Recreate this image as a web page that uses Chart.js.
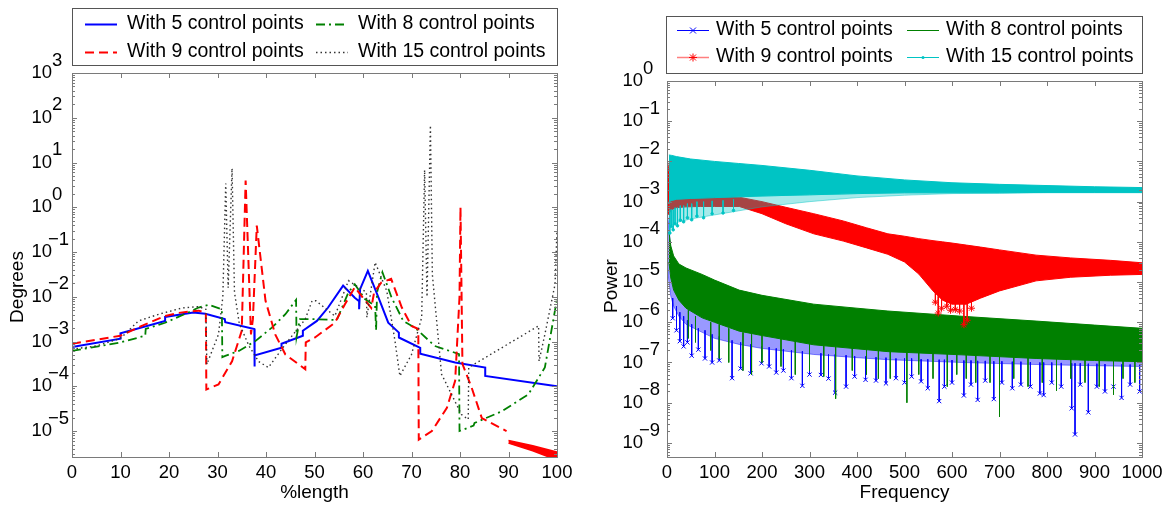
<!DOCTYPE html>
<html>
<head>
<meta charset="utf-8">
<script src="https://cdn.jsdelivr.net/npm/chart.js@4.4.0/dist/chart.umd.min.js"></script>
<style>
  html, body { margin: 0; padding: 0; background: #fff; }
  #wrap { position: relative; width: 1173px; height: 506px; }
  canvas { position: absolute; top: 0; }
  #left { left: 0; }
  #right { left: 586px; }
</style>
</head>
<body>
<div id="wrap">
  <canvas id="left" width="586" height="506"></canvas>
  <canvas id="right" width="587" height="506"></canvas>
</div>
<script>
// ---- left panel: %length vs log10(degrees) ----
const c5X = [0, 10, 10, 19.2, 19.2, 25, 27.5, 31.5, 31.6, 37.6, 37.6, 37.7, 43.2, 43.2, 47.6, 47.6, 50.5, 52.8, 55.9, 58.3, 59.2, 59.2, 59.4, 61, 63.2, 65.2, 67.4, 67.4, 71.8, 71.8, 79, 85.2, 85.2, 100];
const c5L = [-3.12, -2.935, -2.815, -2.54, -2.45, -2.35, -2.38, -2.5, -2.57, -2.72, -3.56, -3.31, -3.14, -3.05, -2.87, -2.76, -2.54, -2.24, -1.75, -2.02, -2.1, -2.28, -1.83, -1.42, -2.02, -2.58, -2.8, -2.91, -3.14, -3.27, -3.47, -3.58, -3.77, -4.0];

const c8X = [0, 10, 15.1, 15.2, 19.2, 24, 26.1, 28.2, 30.9, 31, 31.6, 34.4, 37.8, 41.2, 44, 46.2, 46.3, 47, 50.1, 54.6, 57, 58.3, 60.4, 62.5, 62.7, 62.9, 64, 65.9, 68.3, 70.7, 74.8, 79.8, 79.9, 82.8, 83, 88.6, 94.1, 97.5, 100];
const c8L = [-3.21, -3.02, -2.87, -2.72, -2.58, -2.35, -2.24, -2.18, -2.28, -3.35, -3.32, -3.21, -2.99, -2.69, -2.39, -2.07, -2.9, -2.5, -2.5, -2.52, -1.9, -1.72, -2.05, -2.2, -2.75, -1.9, -1.45, -2.02, -2.54, -2.69, -3.1, -3.28, -5.0, -4.88, -4.82, -4.56, -4.18, -3.58, -2.05];

const c9X = [0, 10, 14.4, 19.2, 22, 26.1, 27.6, 27.7, 30.2, 33, 35, 35.8, 36.9, 37.3, 38.1, 39.9, 41.9, 44, 48.1, 48.2, 50.1, 54.2, 56.3, 58.3, 60.2, 61.7, 62.3, 63.8, 65.8, 68, 70, 71.4, 71.5, 74.2, 77.3, 79, 79.9, 80.1, 80.5, 82.4, 84.5, 89.6];
const c9L = [-3.05, -2.87, -2.65, -2.43, -2.36, -2.31, -2.36, -4.07, -3.96, -3.44, -2.76, 0.6, -2.84, -2.5, -0.41, -2.09, -2.84, -3.29, -3.62, -3.02, -2.91, -2.58, -2.16, -1.79, -2.05, -2.25, -1.9, -1.68, -1.6, -2.24, -2.65, -2.72, -5.19, -5.0, -4.48, -3.88, -2.0, 0.0, -3.5, -4.03, -4.71, -5.0];
const c9TailX = [90, 95, 100];
const c9TailHi = [-5.21, -5.33, -5.47];
const c9TailLo = [-5.27, -5.44, -5.65];

const c15X = [0, 5, 10, 13.7, 17.9, 22.7, 26.1, 27.6, 27.8, 30.2, 31.1, 31.7, 32.2, 33.0, 33.5, 34.5, 36.5, 38.5, 40.5, 44, 48.1, 49.5, 50.3, 54.2, 57, 60.7, 60.8, 62.5, 64.9, 66.6, 67.6, 70, 72.1, 72.7, 73.2, 73.9, 74.3, 76.2, 80.3, 81.7, 81.8, 88.6, 96.2, 96.3, 97.5, 99.6, 100];
const c15L = [-3.17, -3.1, -2.93, -2.54, -2.39, -2.25, -2.22, -2.28, -3.51, -2.84, -2.0, 0.53, -1.8, 0.87, -1.9, -2.6, -3.1, -3.45, -3.58, -3.06, -2.5, -2.09, -2.09, -2.43, -1.64, -1.9, -2.46, -1.23, -1.87, -2.99, -3.77, -3.29, -2.46, 0.83, -2.0, 1.83, -1.5, -3.73, -4.63, -4.74, -3.58, -3.14, -2.65, -3.44, -2.84, -1.72, -0.5];

const leftExps = [3, 2, 1, 0, -1, -2, -3, -4, -5];

// ---- right panel: frequency vs log10(power), envelopes + spikes ----
const cyF = [4, 10, 20, 50, 100, 150, 200, 300, 400, 500, 600, 700, 800, 900, 1000];
const cyHi = [-1.84, -1.85, -1.88, -1.94, -2.0, -2.05, -2.1, -2.22, -2.36, -2.46, -2.53, -2.57, -2.6, -2.63, -2.65];
const cyMid = [-3.0, -2.97, -2.94, -2.92, -2.9, -2.88, -2.86, -2.83, -2.8, -2.78, -2.78, -2.78, -2.77, -2.77, -2.77];
const cyLo = [-3.6, -3.58, -3.52, -3.43, -3.33, -3.23, -3.13, -3.0, -2.9, -2.84, -2.8, -2.79, -2.78, -2.78, -2.78];
const cySpF = [6, 9, 13, 17, 22, 28, 35, 43, 52, 63, 77, 95, 118, 140];
const cySpBase = [-3.2, -3.2, -3.2, -3.15, -3.15, -3.1, -3.1, -3.05, -3.05, -3.0, -3.0, -2.98, -2.97, -2.95];
const cySpTip = [-3.78, -3.62, -3.7, -3.55, -3.6, -3.46, -3.5, -3.4, -3.45, -3.36, -3.4, -3.3, -3.28, -3.22];

const rdF = [1, 4, 10, 20, 40, 70, 100, 152, 200, 250, 309, 371, 420, 465, 500, 530, 560, 580, 600, 630, 660, 700, 777, 850, 934, 1000];
const rdHi = [-1.98, -2.25, -2.6, -2.72, -2.78, -2.82, -2.85, -2.89, -3.0, -3.14, -3.3, -3.48, -3.65, -3.8, -3.86, -3.92, -3.97, -4.0, -4.03, -4.08, -4.13, -4.2, -4.33, -4.4, -4.46, -4.52];
const rdLo = [-3.35, -3.3, -3.2, -3.15, -3.13, -3.12, -3.12, -3.12, -3.3, -3.55, -3.8, -3.98, -4.15, -4.31, -4.5, -4.8, -5.22, -5.45, -5.55, -5.55, -5.4, -5.22, -4.97, -4.88, -4.83, -4.81];
const rdSpF = [565, 571, 578, 589, 597, 607, 616, 625, 632, 641];
const rdSpBase = [-5.25, -5.35, -5.4, -5.4, -5.45, -5.5, -5.5, -5.52, -5.5, -5.45];
const rdSpTip = [-5.5, -5.77, -5.65, -5.6, -5.7, -5.68, -5.72, -6.06, -5.95, -5.65];

const grF = [4, 8, 14, 25, 40, 74, 100, 152, 200, 309, 400, 465, 621, 777, 900, 1000];
const grHi = [-3.75, -4.1, -4.35, -4.55, -4.65, -4.81, -4.95, -5.2, -5.33, -5.55, -5.65, -5.72, -5.85, -5.97, -6.07, -6.15];
const grLo = [-4.5, -4.9, -5.2, -5.45, -5.65, -5.89, -6.0, -6.22, -6.33, -6.56, -6.66, -6.73, -6.81, -6.9, -6.95, -6.98];
const grSpF = [45, 60, 92, 110, 130, 160, 178, 200, 240, 270, 300, 330, 355, 390, 420, 445, 470, 505, 530, 560, 590, 610, 630, 650, 680, 700, 730, 760, 790, 820, 850, 880, 910, 940, 960, 985];
const grSpBase = [-5.7, -5.85, -6.0, -6.05, -6.15, -6.25, -6.3, -6.33, -6.4, -6.45, -6.5, -6.53, -6.6, -6.62, -6.65, -6.68, -6.7, -6.72, -6.73, -6.75, -6.76, -6.78, -6.79, -6.8, -6.81, -6.82, -6.84, -6.86, -6.88, -6.9, -6.91, -6.92, -6.94, -6.95, -6.96, -6.97];
const grSpTip = [-6.4, -6.5, -6.7, -6.9, -7.0, -7.2, -7.3, -7.0, -7.1, -7.3, -7.2, -7.35, -7.9, -7.2, -7.3, -7.4, -7.4, -8.0, -7.3, -7.4, -7.6, -7.3, -7.4, -7.5, -7.5, -8.35, -7.4, -7.6, -7.5, -7.7, -7.4, -7.5, -7.6, -7.8, -7.4, -7.5];

const blF = [1, 4, 8, 14, 25, 40, 74, 100, 152, 200, 309, 400, 465, 621, 777, 900, 1000];
const blHi = [-3.3, -3.6, -4.2, -4.6, -4.9, -5.1, -5.4, -5.55, -5.75, -5.9, -6.1, -6.2, -6.25, -6.35, -6.42, -6.48, -6.52];
const blLo = [-4.6, -5.0, -5.35, -5.6, -5.85, -6.05, -6.25, -6.4, -6.55, -6.65, -6.8, -6.88, -6.93, -7.0, -7.05, -7.08, -7.1];
const blSpF = [12, 20, 27, 35, 43, 52, 66, 80, 95, 110, 137, 155, 176, 199, 215, 230, 245, 262, 285, 300, 324, 340, 354, 377, 395, 418, 440, 461, 482, 500, 515, 535, 549, 573, 584, 600, 625, 640, 654, 670, 688, 705, 727, 745, 765, 785, 793, 810, 830, 852, 859, 870, 887, 905, 922, 940, 957, 975, 995];
const blSpBase = [-5.4, -5.6, -5.75, -5.85, -5.95, -6.05, -6.15, -6.2, -6.3, -6.35, -6.45, -6.5, -6.55, -6.6, -6.62, -6.65, -6.67, -6.7, -6.72, -6.75, -6.77, -6.8, -6.8, -6.82, -6.84, -6.85, -6.87, -6.88, -6.9, -6.9, -6.9, -6.92, -6.92, -6.93, -6.93, -6.94, -6.95, -6.95, -6.96, -6.96, -6.97, -6.97, -6.98, -6.98, -6.99, -7.0, -7.0, -7.0, -7.01, -7.02, -7.02, -7.02, -7.03, -7.03, -7.04, -7.04, -7.05, -7.05, -7.05];
const blSpTip = [-5.9, -6.2, -6.47, -6.6, -6.5, -6.83, -6.68, -6.9, -7.0, -6.95, -7.39, -7.15, -7.27, -7.02, -7.1, -7.25, -7.2, -7.39, -7.58, -7.3, -7.31, -7.4, -7.75, -7.6, -7.35, -7.43, -7.45, -7.52, -7.39, -7.5, -7.35, -7.47, -7.64, -7.96, -7.6, -7.5, -7.82, -7.55, -7.93, -7.45, -7.91, -7.5, -7.64, -7.55, -7.6, -7.77, -7.81, -7.5, -7.6, -8.14, -8.79, -7.55, -8.24, -7.6, -7.72, -7.6, -7.88, -7.55, -7.72];

const rightExps = [0, -1, -2, -3, -4, -5, -6, -7, -8, -9];

const labels = ["With 5 control points", "With 8 control points", "With 9 control points", "With 15 control points"];

const FONT = '"Liberation Sans", Arial, Helvetica, sans-serif';
const BLUE = "#0000ff", GREEN = "#008000", RED = "#ff0000", CYAN = "#00c4c4";

function pts(xs, logs) {
  return xs.map((v, i) => ({ x: v, y: Math.pow(10, logs[i]) }));
}
function spikes(xs, base, tip) {
  const out = [];
  xs.forEach((v, i) => {
    out.push({ x: v, y: Math.pow(10, base[i]) }, { x: v, y: Math.pow(10, tip[i]), tip: true }, { x: v, y: null });
  });
  return out;
}

function drawMarker(ctx, kind, x, y, color) {
  ctx.save();
  ctx.strokeStyle = color; ctx.fillStyle = color; ctx.lineWidth = 1; ctx.setLineDash([]);
  ctx.beginPath();
  if (kind === "x" || kind === "*") {
    ctx.moveTo(x - 3, y - 3); ctx.lineTo(x + 3, y + 3);
    ctx.moveTo(x - 3, y + 3); ctx.lineTo(x + 3, y - 3);
  }
  if (kind === "*") {
    ctx.moveTo(x - 4, y); ctx.lineTo(x + 4, y);
    ctx.moveTo(x, y - 4); ctx.lineTo(x, y + 4);
  }
  ctx.stroke();
  if (kind === ".") { ctx.beginPath(); ctx.arc(x, y, 1.5, 0, Math.PI * 2); ctx.fill(); }
  ctx.restore();
}

const matlabFrame = {
  id: "matlabFrame",
  afterDraw(chart, args, o) {
    const { ctx, chartArea: a, scales: { x, y } } = chart;
    ctx.save();
    ctx.strokeStyle = "#7a7a7a";
    ctx.lineWidth = 1;
    ctx.beginPath();
    x.ticks.forEach(t => {
      const px = Math.round(x.getPixelForValue(t.value)) + 0.5;
      ctx.moveTo(px, a.bottom); ctx.lineTo(px, a.bottom - 5);
      ctx.moveTo(px, a.top); ctx.lineTo(px, a.top + 5);
    });
    const e0 = Math.floor(Math.log10(y.min)), e1 = Math.ceil(Math.log10(y.max));
    for (let e = e0; e <= e1; e++) {
      for (let m = 1; m < 10; m++) {
        const v = m * Math.pow(10, e);
        if (v < y.min * 0.999 || v > y.max * 1.001) continue;
        const py = Math.round(y.getPixelForValue(v)) + 0.5;
        const len = m === 1 ? 5 : 3;
        ctx.moveTo(a.left, py); ctx.lineTo(a.left + len, py);
        ctx.moveTo(a.right, py); ctx.lineTo(a.right - len, py);
      }
    }
    ctx.stroke();
    ctx.strokeRect(a.left + 0.5, a.top + 0.5, a.right - a.left, a.bottom - a.top);

    // y tick labels 10^n
    ctx.fillStyle = "#000";
    ctx.font = "18.5px " + FONT;
    ctx.textBaseline = "middle";
    o.exps.forEach(e => {
      const py = y.getPixelForValue(Math.pow(10, e));
      const rx = a.left - o.gap;
      ctx.textAlign = "right";
      ctx.fillText("10", rx, py);
      ctx.textAlign = "left";
      ctx.fillText(e < 0 ? "\u2212" + (-e) : String(e), rx + (e < 0 ? -4 : 0), py - 12.5);
    });

    // y title
    ctx.save();
    ctx.translate(o.yTitleX, o.yTitleY);
    ctx.rotate(-Math.PI / 2);
    ctx.textAlign = "center";
    ctx.font = "19px " + FONT;
    ctx.fillText(o.yTitle, 0, 0);
    ctx.restore();

    // legend
    const L = o.legend;
    ctx.fillStyle = "#fff";
    ctx.fillRect(L.box[0], L.box[1], L.box[2] - L.box[0], L.box[3] - L.box[1]);
    ctx.strokeStyle = "#555";
    ctx.strokeRect(L.box[0] + 0.5, L.box[1] + 0.5, L.box[2] - L.box[0], L.box[3] - L.box[1]);
    ctx.font = "19.5px " + FONT;
    ctx.textAlign = "left";
    ctx.textBaseline = "middle";
    L.items.forEach((it, i) => {
      const col = i % 2, row = Math.floor(i / 2);
      const yy = L.rows[row];
      const x0 = L.lineX[col], x1 = x0 + L.lineLen;
      ctx.save();
      ctx.strokeStyle = it.lineColor || it.color;
      ctx.lineWidth = it.width;
      ctx.setLineDash(it.dash || []);
      ctx.beginPath();
      ctx.moveTo(x0, Math.round(yy) + 0.5); ctx.lineTo(x1, Math.round(yy) + 0.5);
      ctx.stroke();
      ctx.restore();
      if (it.marker) drawMarker(ctx, it.marker, (x0 + x1) / 2, Math.round(yy) + 0.5, it.color);
      ctx.fillStyle = "#000";
      ctx.fillText(labels[i], L.textX[col], yy);
    });
    ctx.restore();
  }
};

Chart.defaults.font.family = FONT;
Chart.defaults.color = "#000";

function axes(xMax, xStep, yMinExp, yMax, xTitle, yWidth) {
  return {
    x: {
      type: "linear", min: 0, max: xMax,
      ticks: { stepSize: xStep, autoSkip: false, font: { size: 18.5 }, color: "#000", padding: 5, maxRotation: 0, callback: v => String(v) },
      grid: { display: false, drawTicks: false },
      border: { display: false },
      title: { display: true, text: xTitle, font: { size: 19 }, color: "#000", padding: { top: 0, bottom: 2 } },
      afterFit: s => { s.height = 49; }
    },
    y: {
      type: "logarithmic", min: Math.pow(10, yMinExp), max: yMax,
      ticks: { display: false },
      grid: { display: false, drawTicks: false },
      border: { display: false },
      afterFit: s => { s.width = yWidth; }
    }
  };
}

const lineDs = (xs, ls, color, width, dash, order) => ({
  data: pts(xs, ls), borderColor: color, borderWidth: width, borderDash: dash,
  pointRadius: 0, fill: false, order
});

// left chart
const leftDs = [
  lineDs(c15X, c15L, "#333", 1.4, [1.5, 3], 1),
  lineDs(c9X, c9L, RED, 2, [9, 5], 2),
  { data: pts(c9TailX, c9TailHi), borderColor: RED, backgroundColor: RED, borderWidth: 1.5, pointRadius: 0, fill: 3, order: 2 },
  { data: pts(c9TailX, c9TailLo), borderColor: RED, borderWidth: 1.5, pointRadius: 0, fill: false, order: 2 },
  lineDs(c8X, c8L, GREEN, 1.8, [9, 4, 2, 4], 3),
  lineDs(c5X, c5L, BLUE, 2, [], 4)
];

new Chart(document.getElementById("left"), {
  type: "line",
  data: { datasets: leftDs },
  options: {
    responsive: false, animation: false, events: [], devicePixelRatio: 1,
    layout: { padding: { left: 0, top: 73, right: 29, bottom: 0 } },
    scales: axes(100, 10, -5.58, 1e3, "%length", 72),
    plugins: {
      legend: { display: false }, tooltip: { enabled: false },
      matlabFrame: {
        exps: leftExps, gap: 20, yTitle: "Degrees", yTitleX: 18, yTitleY: 287,
        legend: {
          box: [72, 8, 557, 65], rows: [24, 51.5], lineX: [85, 316], lineLen: 32, textX: [127, 358],
          items: [
            { color: BLUE, width: 2 },
            { color: GREEN, width: 1.8, dash: [9, 4, 2, 4] },
            { color: RED, width: 2, dash: [9, 5] },
            { color: "#333", width: 1.4, dash: [1.5, 3] }
          ]
        }
      }
    }
  },
  plugins: [matlabFrame]
});

// right chart
const rightDs = [];
function band(xs, hi, lo, color, fillColor, order) {
  const i = rightDs.length;
  rightDs.push({ data: pts(xs, hi), borderColor: color, backgroundColor: fillColor, borderWidth: 1, pointRadius: 0, fill: i + 1, order });
  rightDs.push({ data: pts(xs, lo), borderColor: color, borderWidth: 1, pointRadius: 0, fill: false, order });
}
function spikeDs(xs, base, tip, color, style, r, order) {
  rightDs.push({
    data: spikes(xs, base, tip), borderColor: color, backgroundColor: color, borderWidth: 1,
    pointStyle: style, pointBorderColor: color, pointBorderWidth: 1,
    pointRadius: c => (c.raw && c.raw.tip ? r : 0), spanGaps: false, fill: false, order
  });
}
spikeDs(cySpF, cySpBase, cySpTip, CYAN, "circle", 1.3, 1);
band(cyF, cyHi, cyMid, CYAN, CYAN, 2);
band(cyF, cyMid, cyLo, "rgba(0,196,196,0.45)", "rgba(0,196,196,0.35)", 3);
spikeDs(rdSpF, rdSpBase, rdSpTip, RED, "star", 3.5, 4);
band(rdF, rdHi, rdLo, RED, RED, 5);
spikeDs(grSpF, grSpBase, grSpTip, GREEN, "line", 0, 6);
band(grF, grHi, grLo, GREEN, GREEN, 7);
spikeDs(blSpF, blSpBase, blSpTip, BLUE, "crossRot", 3, 8);
band(blF, blHi, blLo, "rgba(0,0,255,0.45)", "rgba(0,0,255,0.4)", 9);

new Chart(document.getElementById("right"), {
  type: "line",
  data: { datasets: rightDs },
  options: {
    responsive: false, animation: false, events: [], devicePixelRatio: 1,
    layout: { padding: { left: 0, top: 81, right: 31, bottom: 0 } },
    scales: axes(1000, 100, -9.35, 1, "Frequency", 81),
    plugins: {
      legend: { display: false }, tooltip: { enabled: false },
      filler: { propagate: false },
      matlabFrame: {
        exps: rightExps, gap: 24, yTitle: "Power", yTitleX: 26, yTitleY: 286,
        legend: {
          box: [80, 16, 556, 73], rows: [29.5, 56.5], lineX: [91, 321], lineLen: 32, textX: [130, 360],
          items: [
            { color: BLUE, width: 1, marker: "x" },
            { color: GREEN, width: 1 },
            { color: RED, lineColor: "rgba(255,0,0,0.5)", width: 1.5, marker: "*" },
            { color: CYAN, width: 1, marker: "." }
          ]
        }
      }
    }
  },
  plugins: [matlabFrame]
});
</script>
</body>
</html>
